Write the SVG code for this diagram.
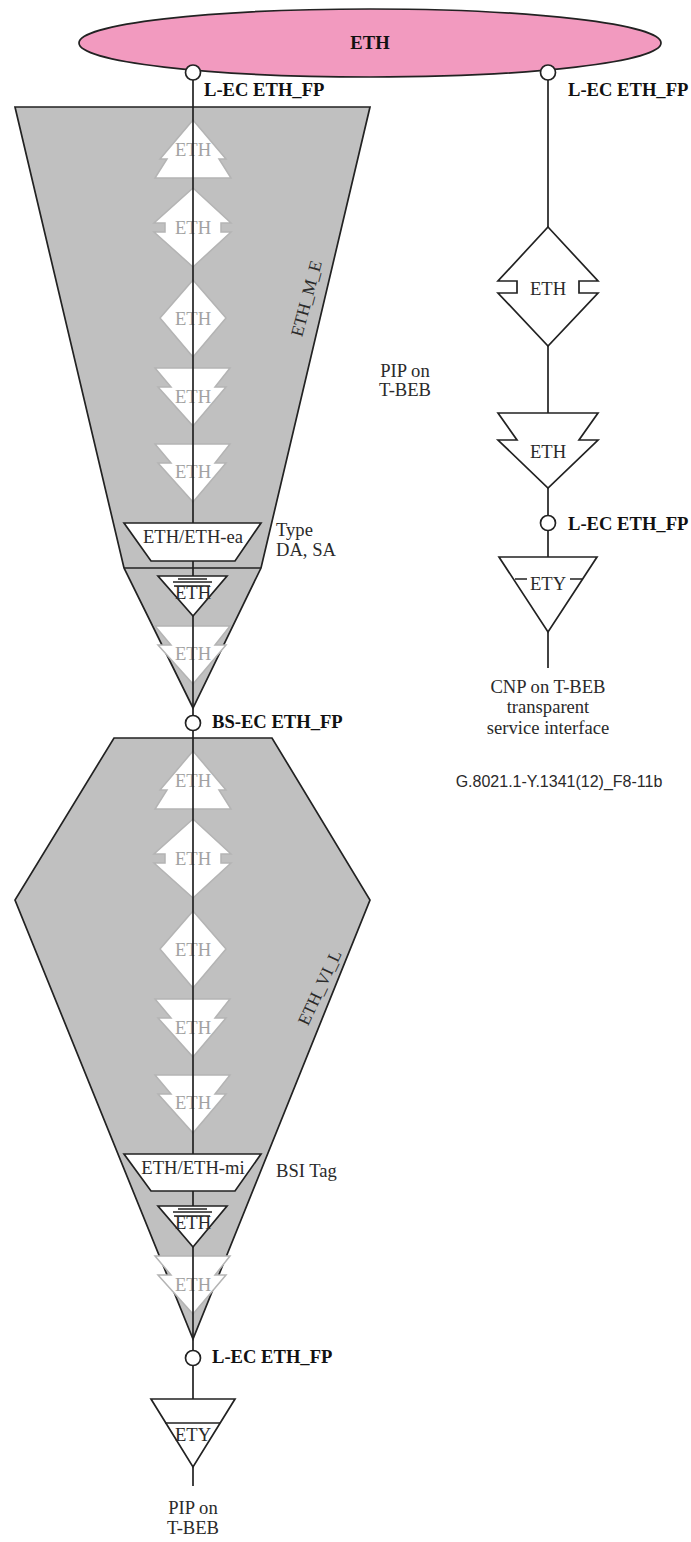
<svg xmlns="http://www.w3.org/2000/svg" width="691" height="1542" viewBox="0 0 691 1542">
<style>
text{font-family:"Liberation Serif","Times New Roman",serif;font-size:18.6px;fill:#2a2a2a}
.m{text-anchor:middle}
.b{font-weight:bold;fill:#111}
.r{font-size:17.5px}
.pale use{fill:#fff;stroke:#b4b4b4;stroke-width:1.5;stroke-linejoin:miter}
.pale text{fill:#a2a2a2}
.cone{fill:#c0c0c0;stroke:#222;stroke-width:1.7;stroke-linejoin:miter}
.n{fill:#fff;stroke:#222;stroke-width:1.7;stroke-linejoin:miter}
.l{fill:none;stroke:#222;stroke-width:1.7}
.c{fill:#fff;stroke:#222;stroke-width:1.7}
</style>
<defs>
<polygon id="tree" points="193,0 226,39 219,39 231,58 155,58 167,39 160,39"/>
<polygon id="notch" points="193,0 231,35 221,35 221,44 231,44 193,79 154,44 165,44 165,35 154,35"/>
<polygon id="dia" points="193,0 226,38 193,77 160,38"/>
<polygon id="down" points="155,0 230,0 215,19 226,19 193,58 158,19 171,19"/>
</defs>
<g id="eth-m-e"><polygon class="cone" points="15,107 370,107 261,568 193,708 124,568"/><line class="l" x1="124" y1="568" x2="261" y2="568"/><text class="m r" transform="translate(312,300) rotate(-75)">ETH_M_E</text></g>
<g id="eth-vi-l"><polygon class="cone" points="114,738 272,738 370,900 193,1339 15,900"/><text class="m r" transform="translate(325,990) rotate(-65)">ETH_VI_L</text></g>
<g id="pale-upper" class="pale">
<g id="p1"><use href="#tree" y="120"/><text class="m" x="193" y="156">ETH</text></g>
<g id="p2"><use href="#notch" y="188"/><text class="m" x="193" y="234">ETH</text></g>
<g id="p3"><use href="#dia" y="280"/><text class="m" x="193" y="325">ETH</text></g>
<g id="p4"><use href="#down" y="368"/><text class="m" x="193" y="403">ETH</text></g>
<g id="p5"><use href="#down" y="444"/><text class="m" x="193" y="478">ETH</text></g>
<g id="p6"><use href="#down" y="626"/><text class="m" x="193" y="660">ETH</text></g>
</g>
<g id="pale-lower" class="pale">
<g id="q1"><use href="#tree" y="751"/><text class="m" x="193" y="787">ETH</text></g>
<g id="q2"><use href="#notch" y="819"/><text class="m" x="193" y="865">ETH</text></g>
<g id="q3"><use href="#dia" y="911"/><text class="m" x="193" y="956">ETH</text></g>
<g id="q4"><use href="#down" y="999"/><text class="m" x="193" y="1034">ETH</text></g>
<g id="q5"><use href="#down" y="1075"/><text class="m" x="193" y="1109">ETH</text></g>
<g id="q6"><use href="#down" y="1256"/><text class="m" x="193" y="1291">ETH</text></g>
</g>
<g id="connectors">
<line class="l" x1="193" y1="72" x2="193" y2="1486"/>
<line class="l" x1="548" y1="72" x2="548" y2="227"/>
<line class="l" x1="548" y1="346" x2="548" y2="413"/>
<line class="l" x1="548" y1="488" x2="548" y2="557"/>
<line class="l" x1="548" y1="632" x2="548" y2="668"/>
</g>
<g id="top-eth"><ellipse cx="370" cy="43" rx="291" ry="34" fill="#f29abf" stroke="#222" stroke-width="1.7"/><text class="m b" x="370" y="49">ETH</text></g>
<g id="ea"><polygon class="n" points="124,523 261,523 235,561 151,561"/><text class="m" x="193" y="543">ETH/ETH-ea</text></g>
<g id="sink1"><polygon class="n" points="158,576 227,576 193,616"/><path class="l" d="M178 579H207M173 582H212M174 586H210" stroke-width="1"/><text class="m" x="193" y="599">ETH</text></g>
<g id="mi"><polygon class="n" points="124,1154 261,1154 235,1191 151,1191"/><text class="m" x="193" y="1174">ETH/ETH-mi</text></g>
<g id="sink2"><polygon class="n" points="158,1206 227,1206 193,1247"/><path class="l" d="M178 1209H207M173 1212H212M174 1216H210" stroke-width="1"/><text class="m" x="193" y="1229">ETH</text></g>
<g id="ety-left"><polygon class="n" points="151,1399 235,1399 193,1467"/><line class="l" x1="165" y1="1423" x2="220" y2="1423"/><text class="m" x="193" y="1441">ETY</text></g>
<g id="fp1"><circle class="c" cx="193" cy="72.500" r="7.500"/><text class="b" x="204" y="96">L-EC ETH_FP</text></g>
<g id="fp2"><circle class="c" cx="548" cy="72.500" r="7.500"/><text class="b" x="568" y="96">L-EC ETH_FP</text></g>
<g id="fp3"><circle class="c" cx="193" cy="723" r="7.500"/><text class="b" x="212" y="728">BS-EC ETH_FP</text></g>
<g id="fp4"><circle class="c" cx="193" cy="1358" r="7.500"/><text class="b" x="212" y="1363">L-EC ETH_FP</text></g>
<g id="fp5"><circle class="c" cx="548" cy="523" r="7.500"/><text class="b" x="568" y="530">L-EC ETH_FP</text></g>
<g id="r-notch"><polygon class="n" points="548,227 598,281 579,281 579,293 598,293 548,346 498,293 517,293 517,281 498,281"/><text class="m" x="548" y="295">ETH</text></g>
<g id="r-down"><polygon class="n" points="498,413 598,413 579,440 598,440 548,488 498,440 517,440"/><text class="m" x="548" y="458">ETH</text></g>
<g id="r-ety"><polygon class="n" points="499,557 597,557 548,632"/><path class="l" d="M515 579H527M570 579H582"/><text class="m" x="548" y="590">ETY</text></g>
<g id="labels">
<text class="m" x="405" y="377">PIP on</text><text class="m" x="405" y="396">T-BEB</text>
<text x="276" y="536">Type</text><text x="276" y="556">DA, SA</text>
<text x="276" y="1177">BSI Tag</text>
<text class="m" x="548" y="693">CNP on T-BEB</text><text class="m" x="548" y="713">transparent</text><text class="m" x="548" y="734">service interface</text>
<text class="m" x="193" y="1514">PIP on</text><text class="m" x="193" y="1534">T-BEB</text>
<text class="m" x="559" y="787" style="font-family:'Liberation Sans',Arial,sans-serif;font-size:16px">G.8021.1-Y.1341(12)_F8-11b</text>
</g>
</svg>
